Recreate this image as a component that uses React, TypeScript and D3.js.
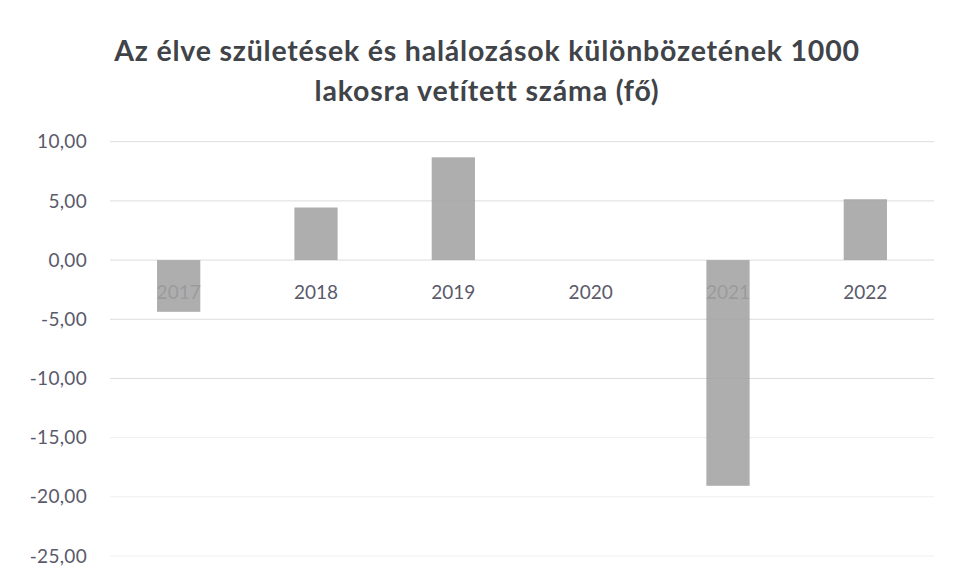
import React from "react";
import * as d3 from "d3";

const categories: string[] = ["2017", "2018", "2019", "2020", "2021", "2022"];
const values: number[] = [-4.37, 4.44, 8.68, 0, -19.07, 5.14];
const yTicks: number[] = [10, 5, 0, -5, -10, -15, -20, -25];
const titleLines: string[] = [
  "Az élve születések és halálozások különbözetének 1000",
  "lakosra vetített száma (fő)",
];

const W = 953;
const H = 580;
const plotLeft = 110;
const plotRight = 934;
const yTop = 141.7;
const yBottom = 556;

const locale = d3.formatLocale({
  decimal: ",",
  thousands: " ",
  grouping: [3],
  currency: ["", ""],
  minus: "-",
});
const fmt = locale.format(".2f");

export default function App() {
  const x = d3.scaleBand<string>().domain(categories).range([plotLeft, plotRight]).padding(0);
  const y = d3.scaleLinear().domain([-25, 10]).range([yBottom, yTop]);
  const barW = x.bandwidth() * 0.315;
  const font = "Lato, 'Open Sans', sans-serif";
  return (
    <svg
      width={W}
      height={H}
      style={{ position: "absolute", left: 0, top: 0, display: "block", background: "#fff" }}
    >
      <g fontFamily={font} fill="#404448" fontWeight={700} fontSize={28.5} letterSpacing={0.8} textAnchor="middle">
        <text x={487} y={61}>{titleLines[0]}</text>
        <text x={487} y={101}>{titleLines[1]}</text>
      </g>
      <g>
        {yTicks.map((t) => (
          <line
            key={t}
            x1={plotLeft}
            x2={plotRight}
            y1={y(t)}
            y2={y(t)}
            stroke={t <= -15 ? "#eeeeee" : "#dcdcdc"}
            strokeWidth={1}
          />
        ))}
      </g>
      <g fontFamily={font} fontSize={19} fill="#5a5a6a" textAnchor="end" letterSpacing={0.3}>
        {yTicks.map((t) => (
          <text key={t} x={87} y={y(t)} dy="0.35em">
            {fmt(t)}
          </text>
        ))}
      </g>
      <g fontFamily={font} fontSize={19} fill="#5a5a6a" textAnchor="middle">
        {categories.map((c) => (
          <text key={c} x={(x(c) as number) + x.bandwidth() / 2} y={292} dy="0.35em">
            {c}
          </text>
        ))}
      </g>
      <g>
        {categories.map((c, i) => {
          const v = values[i];
          const y0 = y(Math.max(0, v));
          const y1 = y(Math.min(0, v));
          return (
            <rect
              key={c}
              x={(x(c) as number) + x.bandwidth() / 2 - barW / 2}
              y={y0}
              width={barW}
              height={y1 - y0}
              fill="#a3a3a3"
              fillOpacity={0.88}
            />
          );
        })}
      </g>
    </svg>
  );
}
